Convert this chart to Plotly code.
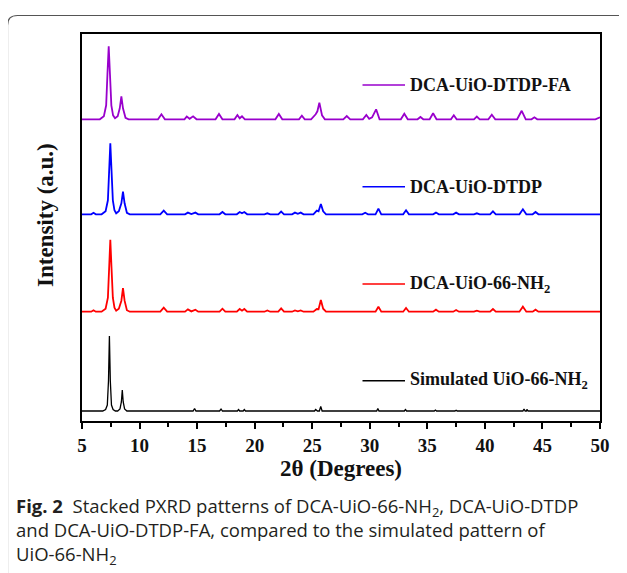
import plotly.graph_objects as go

# ---------------- data ----------------
# 2-theta vertices and intensity (a.u., above each pattern's own baseline)
sim_2theta = [5.0, 6.8, 7.05, 7.2, 7.3, 7.38, 7.46, 7.56, 7.7, 7.9,
              8.1, 8.3, 8.42, 8.5, 8.58, 8.7, 8.9,
              14.65, 14.78, 14.9, 16.95, 17.08, 17.2, 18.5, 18.6, 18.7, 19.0, 19.1, 19.2,
              22.1, 22.2, 22.3, 25.2, 25.3, 25.45, 25.62, 25.74, 25.86,
              30.6, 30.7, 30.8, 33.0, 33.1, 33.2, 35.6, 35.7, 35.8, 37.4, 37.5, 37.6,
              43.3, 43.4, 43.5, 43.6, 43.65, 43.75, 50.0]
sim_int = [0, 0, 1.5, 6, 30, 75, 30, 6, 1.5, 0,
           0, 2, 9, 21, 9, 2, 0,
           0, 2.5, 0, 0, 2, 0, 0, 1.5, 0, 0, 1.5, 0,
           0, 0.7, 0, 0, 1.5, 0, 0, 4.5, 0,
           0, 2.5, 0, 0, 1.5, 0, 0, 1, 0, 0, 0.8, 0,
           0, 2, 0, 0, 1.5, 0, 0]

nh2_2theta = [5.0, 5.8, 6.0, 6.2, 6.7, 7.05, 7.25, 7.36, 7.46, 7.56, 7.68, 7.82, 7.97,
              8.2, 8.42, 8.56, 8.7, 8.9, 9.15,
              11.8, 12.1, 12.4, 13.95, 14.2, 14.5, 14.85, 15.1, 16.95, 17.2, 17.45,
              18.45, 18.7, 18.9, 19.1, 19.35, 20.85, 21.1, 21.35, 22.05, 22.3, 22.55,
              23.25, 23.5, 23.75, 24.0, 24.25, 25.1, 25.4, 25.55, 25.75, 25.95, 26.2,
              30.5, 30.75, 31.0, 32.9, 33.15, 33.4, 35.5, 35.75, 36.0, 37.25, 37.5, 37.75,
              39.05, 39.3, 39.55, 40.45, 40.7, 40.95, 43.0, 43.3, 43.6, 44.15, 44.4, 44.65, 50.0]
nh2_int = [0, 0, 1.5, 0, 0, 3, 14, 45, 72, 45, 14, 4, 1,
           3, 11, 23.5, 11, 1.5, 0,
           0, 4, 0, 0, 2.3, 0.3, 2, 0, 0, 3, 0,
           0, 2.7, 1, 2.7, 0, 0, 1.3, 0, 0, 3.3, 0,
           0, 1.3, 0.4, 1.3, 0, 0, 2.7, 2.5, 11.7, 3, 0,
           0, 5, 0, 0, 3.7, 0, 0, 2, 0, 0, 1.7, 0,
           0, 1, 0, 0, 2.7, 0, 0, 5, 0, 0, 2, 0, 0]

dtdp_2theta = [5.0, 5.8, 6.0, 6.2, 6.7, 7.05, 7.25, 7.36, 7.46, 7.56, 7.68, 7.82, 7.97,
               8.2, 8.42, 8.56, 8.7, 8.9, 9.15,
               11.8, 12.1, 12.4, 13.95, 14.2, 14.5, 14.85, 15.1, 16.95, 17.2, 17.45,
               18.45, 18.7, 18.9, 19.1, 19.35, 20.85, 21.1, 21.35, 22.05, 22.3, 22.55,
               23.25, 23.5, 23.75, 24.0, 24.25, 25.1, 25.4, 25.55, 25.75, 25.95, 26.2,
               29.35, 29.6, 29.85, 30.5, 30.75, 31.0, 32.9, 33.15, 33.4, 35.5, 35.75, 36.0,
               37.25, 37.5, 37.75, 39.05, 39.3, 39.55, 40.45, 40.7, 40.95,
               43.0, 43.3, 43.6, 44.15, 44.4, 44.65, 50.0]
dtdp_int = [0, 0, 1.5, 0, 0, 3, 14, 45, 71, 45, 14, 4, 1,
            3, 11, 22.6, 11, 1.5, 0,
            0, 3.7, 0, 0, 1.7, 0.3, 1.7, 0, 0, 2.3, 0,
            0, 2.3, 1, 2.3, 0, 0, 1, 0, 0, 2.7, 0,
            0, 1.7, 0.5, 1.7, 0, 0, 3.7, 3, 10.3, 3, 0,
            0, 1.5, 0, 0, 5.7, 0, 0, 4, 0, 0, 1.7, 0,
            0, 1.7, 0, 0, 1, 0, 0, 3, 0,
            0, 5, 0, 0, 2.3, 0, 0]

fa_2theta = [5.0, 6.55, 6.9, 7.1, 7.21, 7.32, 7.43, 7.55, 7.7, 7.87,
             8.1, 8.28, 8.42, 8.56, 8.78, 9.05,
             11.6, 11.9, 12.2, 13.9, 14.1, 14.35, 14.65, 14.95, 16.6, 16.9, 17.2,
             18.25, 18.5, 18.7, 18.9, 19.15, 21.8, 22.1, 22.4, 23.85, 24.1, 24.35,
             24.9, 25.3, 25.45, 25.62, 25.85, 26.1, 27.7, 28.0, 28.3,
             29.4, 29.7, 29.95, 30.2, 30.55, 30.85, 32.7, 33.0, 33.3, 34.15, 34.4, 34.65,
             35.2, 35.5, 35.8, 37.05, 37.3, 37.55, 39.05, 39.3, 39.55, 40.3, 40.6, 40.9,
             42.8, 43.2, 43.55, 44.05, 44.3, 44.55, 49.6, 50.0]
fa_int = [0, 0, 3, 14, 45, 73, 45, 14, 4, 1,
          3, 11, 23, 11, 1.5, 0,
          0, 5, 0, 0, 2.7, 0.5, 3, 0, 0, 5.3, 0,
          0, 4.3, 1, 3, 0, 0, 5.3, 0, 0, 3.7, 0,
          0, 5, 8, 16.7, 4, 0, 0, 3.3, 0,
          0, 4.3, 0.5, 2, 10, 0, 0, 5.5, 0, 0, 2.3, 0,
          0, 6, 0, 0, 4, 0, 0, 2.7, 0, 0, 4.5, 0,
          0, 8.5, 0, 0, 2, 0, 0, 2]

series_names = ["Simulated UiO-66-NH<sub>2</sub>", "DCA-UiO-66-NH<sub>2</sub>",
                "DCA-UiO-DTDP", "DCA-UiO-DTDP-FA"]
series_offsets = [10, 109.3, 206.7, 301.7]   # vertical stacking of the patterns
x_tick_values = [5, 10, 15, 20, 25, 30, 35, 40, 45, 50]

# ---------------- style / layout ----------------
colors = ["#000000", "#ff0000", "#0000ff", "#9900cc"]
widths = [1.3, 1.8, 1.8, 1.8]
W_FIG, H_FIG = 627, 573
OFF = 8                      # page body margin of the browser
L, T, PW, PH = 82 - OFF, 34 - OFF, 518, 387
SERIF = "Liberation Serif, Times New Roman, serif"


def px(x):
    return (x - OFF - L) / PW


def py(y):
    return (T + PH - (y - OFF)) / PH


xs = [sim_2theta, nh2_2theta, dtdp_2theta, fa_2theta]
ys = [sim_int, nh2_int, dtdp_int, fa_int]

fig = go.Figure()
for i in range(4):
    fig.add_trace(go.Scatter(
        x=xs[i], y=[v + series_offsets[i] for v in ys[i]],
        mode="lines", name=series_names[i],
        line=dict(color=colors[i], width=widths[i]),
        showlegend=False))

# legend entries placed next to each pattern (line sample + label)
legend_y = [380.7, 284, 186.7, 85]
shapes = []
annotations = []
for i in range(4):
    shapes.append(dict(type="line", xref="paper", yref="paper",
                       x0=px(362.5), x1=px(405), y0=py(legend_y[i]), y1=py(legend_y[i]),
                       line=dict(color=colors[i], width=1.6)))
    annotations.append(dict(xref="paper", yref="paper", x=px(407.5), y=py(legend_y[i]),
                            xanchor="left", yanchor="middle", showarrow=False,
                            text=series_names[i],
                            font=dict(family=SERIF, size=18, color="#111111", weight="bold")))

# outer rounded frame of the figure panel
x0p, y0p, x1p = px(7.5), py(15.5), px(660)
ybot = py(600)
r_x, r_y = 10 / PW, 10 / PH
shapes.append(dict(type="path", xref="paper", yref="paper",
                   path=(f"M{x0p},{ybot} L{x0p},{y0p - r_y} Q{x0p},{y0p} {x0p + r_x},{y0p} "
                         f"L{x1p},{y0p}"),
                   line=dict(color="#555555", width=1.2)))

# caption (one text block, three lines)
CAP = "Open Sans, Noto Sans, sans-serif"
caption = ("<b>Fig. 2</b>  Stacked PXRD patterns of DCA-UiO-66-NH<sub>2</sub>, DCA-UiO-DTDP"
           "<br>and DCA-UiO-DTDP-FA, compared to the simulated pattern of"
           "<br>UiO-66-NH<sub>2</sub>")
annotations.append(dict(xref="paper", yref="paper", x=px(14), y=py(530.5),
                        xanchor="left", yanchor="middle", align="left", showarrow=False,
                        text=caption, font=dict(family=CAP, size=18.5, color="#231f20")))

# y axis title
annotations.append(dict(xref="paper", yref="paper", x=px(45), y=py(215),
                        xanchor="center", yanchor="middle", showarrow=False,
                        text="Intensity (a.u.)", textangle=-90,
                        font=dict(family=SERIF, size=23, color="#111111", weight="bold")))

fig.update_layout(
    width=W_FIG, height=H_FIG,
    margin=dict(l=L, r=W_FIG - L - PW, t=T, b=H_FIG - T - PH, autoexpand=False),
    paper_bgcolor="white", plot_bgcolor="white",
    shapes=shapes, annotations=annotations,
    xaxis=dict(range=[5, 50], tickvals=x_tick_values, ticks="outside", ticklen=6,
               tickwidth=2, tickcolor="black", showline=True, linewidth=2,
               linecolor="black", mirror=True, showgrid=False, zeroline=False,
               minor=dict(dtick=2.5, tick0=5, ticks="outside", ticklen=4, tickwidth=2,
                          tickcolor="black", showgrid=False),
               tickfont=dict(family=SERIF, size=19, color="#111111", weight="bold"),
               title=dict(text="2θ (Degrees)", standoff=3,
                          font=dict(family=SERIF, size=23, color="#111111", weight="bold"))),
    yaxis=dict(range=[0, PH], showticklabels=False, ticks="", showline=True, linewidth=2,
               linecolor="black", mirror=True, showgrid=False, zeroline=False),
)

fig.write_html("out.html")
